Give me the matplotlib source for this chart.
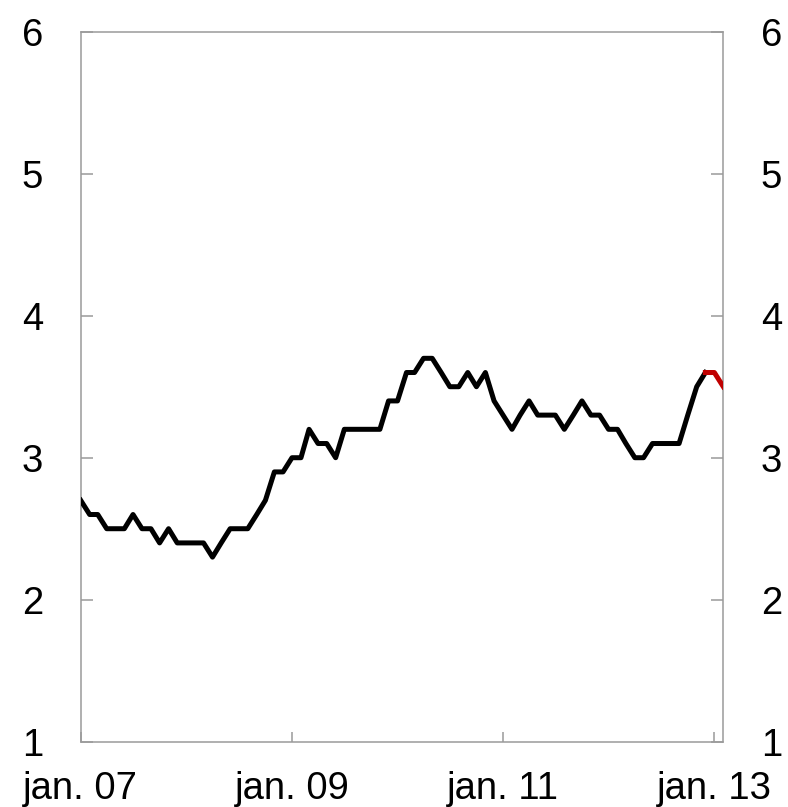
import matplotlib
matplotlib.use("Agg")
import matplotlib.pyplot as plt
import matplotlib.dates as mdates
import pandas as pd

plt.rcParams['font.family'] = ['Liberation Sans', 'DejaVu Sans']

# Monthly values Jan 2007 - Dec 2012 (black)
values = [2.7, 2.6, 2.6, 2.5, 2.5, 2.5, 2.6, 2.5, 2.5, 2.4, 2.5, 2.4,
          2.4, 2.4, 2.4, 2.3, 2.4, 2.5, 2.5, 2.5, 2.6, 2.7, 2.9, 2.9,
          3.0, 3.0, 3.2, 3.1, 3.1, 3.0, 3.2, 3.2, 3.2, 3.2, 3.2, 3.4,
          3.4, 3.6, 3.6, 3.7, 3.7, 3.6, 3.5, 3.5, 3.6, 3.5, 3.6, 3.4,
          3.3, 3.2, 3.3, 3.4, 3.3, 3.3, 3.3, 3.2, 3.3, 3.4, 3.3, 3.3,
          3.2, 3.2, 3.1, 3.0, 3.0, 3.1, 3.1, 3.1, 3.1, 3.3, 3.5, 3.6]
dates = pd.date_range("2007-01-01", periods=len(values), freq="MS")

# Latest observations Dec 2012 - Feb 2013 (red)
recent_values = [3.6, 3.6, 3.5]
recent_dates = pd.date_range("2012-12-01", periods=len(recent_values), freq="MS")

tick_dates = pd.to_datetime(["2007-01-01", "2009-01-01", "2011-01-01", "2013-01-01"])
tick_labels = ["jan. 07", "jan. 09", "jan. 11", "jan. 13"]
y_ticks = [1, 2, 3, 4, 5, 6]

fig = plt.figure(figsize=(7.88, 8.07), dpi=100)
ax = fig.add_axes([0.1024, 0.0809, 0.8155, 0.8798])

ax.plot(dates, values, color="black", lw=3.6, zorder=3)
ax.plot(recent_dates, recent_values, color="#C00000", lw=3.6, zorder=3)

ax.set_xlim(pd.Timestamp("2007-01-01"), pd.Timestamp("2013-02-01"))
ax.set_ylim(1, 6)
ax.set_yticks(y_ticks)
ax.set_yticklabels([str(v) for v in y_ticks])
ax.set_xticks(tick_dates)
ax.set_xticklabels(tick_labels)

for s in ax.spines.values():
    s.set_color("#9a9a9a")
    s.set_linewidth(1.1)

ax.tick_params(axis="y", direction="in", length=8.5, width=1.1, color="#9a9a9a",
               labelsize=27.5, pad=27, left=True, right=True,
               labelleft=True, labelright=True)
ax.tick_params(axis="x", direction="in", length=7, width=1.1, color="#9a9a9a",
               labelsize=27.5, pad=21)

fig.savefig("out.png", dpi=100)
